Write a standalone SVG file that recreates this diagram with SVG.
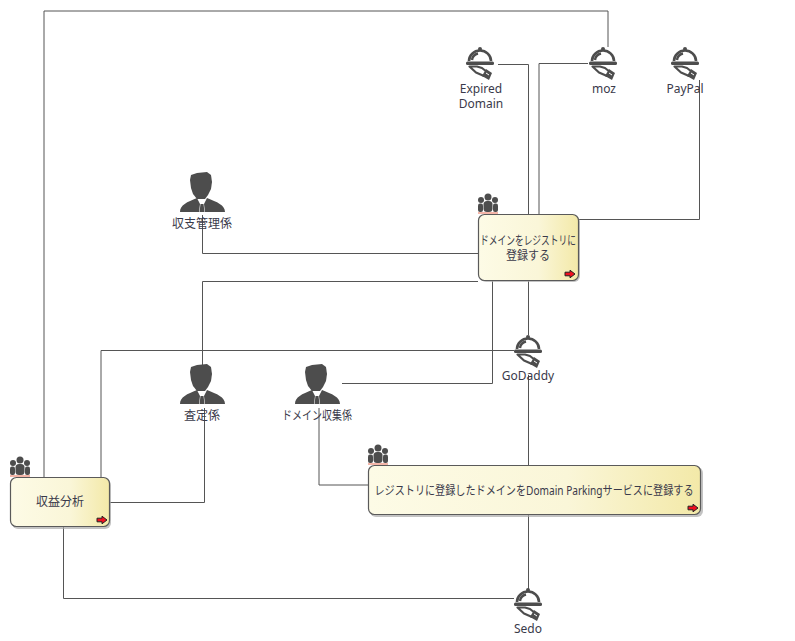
<svg xmlns="http://www.w3.org/2000/svg" width="795" height="641" viewBox="0 0 795 641">
<style>
.c{fill:none;stroke:#555;stroke-width:1}
.t{font-family:"Noto Sans","Noto Sans CJK JP",sans-serif;font-size:12px;fill:#3a3a4a;text-anchor:middle}
.box{fill:url(#g);stroke:#5a5a5a;stroke-width:1.2}
.sh{fill:#aaa;opacity:.7}
.i{fill:#4d4d4d}
</style>
<defs>
<linearGradient id="g" x1="0" x2="1" y1="0" y2="0"><stop offset="0" stop-color="#fdfbe6"/><stop offset=".6" stop-color="#faf6d8"/><stop offset="1" stop-color="#f3e9a8"/></linearGradient>
<g id="person">
<path class="i" d="M-12 -22 L-11 -27 L-5 -29 L5 -30 L9 -27 L10 -20 L9 -13 L6 -7 L3 -3 L-5 -3 L-9 -8 L-11 -14Z"/>
<path class="i" d="M-22 10 C-22 3 -15 0 -5 -4 L-2 2 L-3 10Z M23 10 C23 3 15 0 5 -4 L2 2 L3 10Z"/>
<path class="i" d="M-1.500 2 L1.500 2 L2.500 10 L-2.500 10Z"/>
</g>
<g id="server">
<circle class="i" cx="0" cy="-13" r="2"/>
<path d="M-11 -1 A11 10.500 0 0 1 11 -1" fill="none" stroke="#4d4d4d" stroke-width="2.600"/>
<path d="M-8 -2 A8 7.500 0 0 1 -2 -8.500" fill="none" stroke="#4d4d4d" stroke-width="2.400"/>
<rect class="i" x="-14" y="-0.500" width="28" height="3.500" rx="1.500"/>
<path d="M-10.500 4.500 L-3 4.500 L2 6 L7 10 L4 14 L-4 10.500Z" fill="#fff" stroke="#4d4d4d" stroke-width="2.200" stroke-linejoin="round"/>
<path class="i" d="M6 7 L12 11 L9 18 L2 14Z"/>
<path d="M6 11 L9 13" stroke="#fff" stroke-width="1"/>
</g>
<g id="team">
<circle class="i" cx="0" cy="-8" r="3.500"/><circle class="i" cx="-7" cy="-5" r="3"/><circle class="i" cx="7" cy="-5" r="3"/>
<rect class="i" x="-4.500" y="-4" width="9" height="11" rx="3.500"/><rect class="i" x="-10" y="-1.500" width="5" height="8.500" rx="2"/><rect class="i" x="5" y="-1.500" width="5" height="8.500" rx="2"/>
<rect x="-10" y="7" width="20" height="2" fill="#f4b5a8"/>
</g>
<path id="arrow" d="M-5 -1.800 H0 V-3.800 L5 0 L0 3.800 V1.800 H-5Z" fill="#f01020" stroke="#222" stroke-width="1"/>
</defs>
<g id="connectors">
<path class="c" d="M608 47V11H44V477"/>
<path class="c" d="M498 64.500H528.500V214"/>
<path class="c" d="M588 63.500H539V214"/>
<path class="c" d="M699.500 80V219.500H578"/>
<path class="c" d="M202.500 215V253.500H478"/>
<path class="c" d="M478 281.500H202.500V380"/>
<path class="c" d="M342 383.500H492.500V281"/>
<path class="c" d="M319 408V485H368"/>
<path class="c" d="M514 350.500H101V477"/>
<path class="c" d="M204.500 408V502.500H110"/>
<path class="c" d="M63.500 527V598.500H514"/>
<path class="c" d="M528.500 281V335"/>
<path class="c" d="M528.500 375V465"/>
<path class="c" d="M528.500 515V590"/>
</g>
<g id="expired"><use href="#server" x="480" y="62"/><text class="t" x="481" y="93">Expired</text><text class="t" x="481" y="108">Domain</text></g>
<g id="moz"><use href="#server" x="603" y="62"/><text class="t" x="604" y="93">moz</text></g>
<g id="paypal"><use href="#server" x="685" y="62"/><text class="t" x="685" y="93">PayPal</text></g>
<g id="godaddy"><use href="#server" x="528" y="350"/><text class="t" x="528" y="380">GoDaddy</text></g>
<g id="sedo"><use href="#server" x="528" y="603"/><text class="t" x="528" y="633">Sedo</text></g>
<g id="shuushi"><use href="#person" x="202" y="202"/><text class="t" x="202" y="228">収支管理係</text></g>
<g id="satei"><use href="#person" x="202" y="394"/><text class="t" x="202" y="420">査定係</text></g>
<g id="shuushuu"><use href="#person" x="317" y="394"/><text class="t" x="317" y="420" textLength="70" lengthAdjust="spacingAndGlyphs">ドメイン収集係</text></g>
<g id="register">
<use href="#team" x="488" y="205"/>
<rect class="sh" x="480" y="216" width="100" height="66" rx="6"/>
<rect class="box" x="478.500" y="214.500" width="100" height="66" rx="6"/>
<text class="t" x="528" y="245" textLength="96" lengthAdjust="spacingAndGlyphs">ドメインをレジストリに</text><text class="t" x="528" y="260" textLength="44" lengthAdjust="spacingAndGlyphs">登録する</text>
<use href="#arrow" x="570" y="274"/>
</g>
<g id="parking">
<use href="#team" x="378" y="456"/>
<rect class="sh" x="370" y="467" width="333" height="50" rx="6"/>
<rect class="box" x="368.500" y="465.500" width="332" height="49" rx="6"/>
<text class="t" x="534" y="495" textLength="319" lengthAdjust="spacingAndGlyphs">レジストリに登録したドメインをDomain Parkingサービスに登録する</text>
<use href="#arrow" x="693" y="508"/>
</g>
<g id="analysis">
<use href="#team" x="20" y="468"/>
<rect class="sh" x="12" y="479" width="99" height="50" rx="6"/>
<rect class="box" x="10.500" y="477.500" width="99" height="49" rx="6"/>
<text class="t" x="60" y="506">収益分析</text>
<use href="#arrow" x="102" y="520"/>
</g>
</svg>
